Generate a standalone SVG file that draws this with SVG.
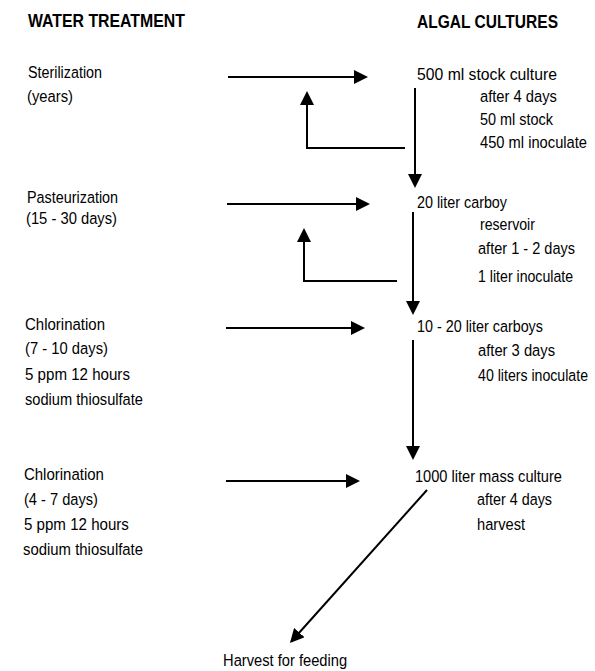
<svg xmlns="http://www.w3.org/2000/svg" width="595" height="671" viewBox="0 0 595 671">
<style>
text{font-family:"Liberation Sans",Arial,sans-serif;font-size:17px;fill:#000}
.h{font-weight:bold;font-size:18.5px}
.c line,.c polyline{stroke:#000;stroke-width:2;fill:none}
</style>
<defs>
<marker id="ah" markerUnits="userSpaceOnUse" markerWidth="15" markerHeight="14" refX="12" refY="7" orient="auto" viewBox="0 0 15 14">
<path d="M0,0 L14,7 L0,14 z" fill="#000"/>
</marker>
</defs>
<rect width="595" height="671" fill="#fff"/>
<g id="header-water" transform="scale(0.85 1)"><text class="h" x="32.9" y="27" textLength="184.7" lengthAdjust="spacingAndGlyphs">WATER TREATMENT</text></g>
<g id="header-algal" transform="scale(0.85 1)"><text class="h" x="490.6" y="28" textLength="165.9" lengthAdjust="spacingAndGlyphs">ALGAL CULTURES</text></g>

<g id="sterilization" transform="scale(0.85 1)">
<text x="32.9" y="78" textLength="87.1" lengthAdjust="spacingAndGlyphs">Sterilization</text>
<text x="31.8" y="102" textLength="54.1" lengthAdjust="spacingAndGlyphs">(years)</text>
</g>
<g id="pasteurization" transform="scale(0.85 1)">
<text x="31.8" y="203" textLength="107.1" lengthAdjust="spacingAndGlyphs">Pasteurization</text>
<text x="30.6" y="224" textLength="107.1" lengthAdjust="spacingAndGlyphs">(15 - 30 days)</text>
</g>
<g id="chlorination1" transform="scale(0.85 1)">
<text x="29.4" y="330" textLength="94.1" lengthAdjust="spacingAndGlyphs">Chlorination</text>
<text x="29.4" y="354" textLength="97.6" lengthAdjust="spacingAndGlyphs">(7 - 10 days)</text>
<text x="29.4" y="380" textLength="123.5" lengthAdjust="spacingAndGlyphs">5 ppm 12 hours</text>
<text x="29.4" y="405" textLength="138.8" lengthAdjust="spacingAndGlyphs">sodium thiosulfate</text>
</g>
<g id="chlorination2" transform="scale(0.85 1)">
<text x="28.2" y="480" textLength="94.1" lengthAdjust="spacingAndGlyphs">Chlorination</text>
<text x="28.2" y="505" textLength="87.1" lengthAdjust="spacingAndGlyphs">(4 - 7 days)</text>
<text x="28.2" y="530" textLength="123.5" lengthAdjust="spacingAndGlyphs">5 ppm 12 hours</text>
<text x="27.1" y="555" textLength="141.2" lengthAdjust="spacingAndGlyphs">sodium thiosulfate</text>
</g>

<g id="stock-culture" transform="scale(0.85 1)">
<text x="490.6" y="80" textLength="164.7" lengthAdjust="spacingAndGlyphs">500 ml stock culture</text>
<text x="564.7" y="102" textLength="90.6" lengthAdjust="spacingAndGlyphs">after 4 days</text>
<text x="564.7" y="125" textLength="85.9" lengthAdjust="spacingAndGlyphs">50 ml stock</text>
<text x="564.7" y="148" textLength="125.9" lengthAdjust="spacingAndGlyphs">450 ml inoculate</text>
</g>
<g id="carboy20" transform="scale(0.85 1)">
<text x="490.6" y="208" textLength="105.9" lengthAdjust="spacingAndGlyphs">20 liter carboy</text>
<text x="564.7" y="230" textLength="64.7" lengthAdjust="spacingAndGlyphs">reservoir</text>
<text x="562.4" y="254" textLength="114.1" lengthAdjust="spacingAndGlyphs">after 1 - 2 days</text>
<text x="562.4" y="282" textLength="111.8" lengthAdjust="spacingAndGlyphs">1 liter inoculate</text>
</g>
<g id="carboys10-20" transform="scale(0.85 1)">
<text x="490.6" y="332" textLength="148.2" lengthAdjust="spacingAndGlyphs">10 - 20 liter carboys</text>
<text x="562.4" y="356" textLength="90.6" lengthAdjust="spacingAndGlyphs">after 3 days</text>
<text x="562.4" y="381" textLength="129.4" lengthAdjust="spacingAndGlyphs">40 liters inoculate</text>
</g>
<g id="mass-culture" transform="scale(0.85 1)">
<text x="488.2" y="482" textLength="172.9" lengthAdjust="spacingAndGlyphs">1000 liter mass culture</text>
<text x="561.2" y="505" textLength="88.2" lengthAdjust="spacingAndGlyphs">after 4 days</text>
<text x="561.2" y="530" textLength="56.5" lengthAdjust="spacingAndGlyphs">harvest</text>
</g>
<g id="harvest-feeding" transform="scale(0.85 1)">
<text x="262.4" y="666" textLength="145.9" lengthAdjust="spacingAndGlyphs">Harvest for feeding</text>
</g>

<g id="connectors" class="c">
<line x1="228" y1="77" x2="366" y2="77" marker-end="url(#ah)"/>
<line x1="415" y1="88" x2="415" y2="186" marker-end="url(#ah)"/>
<polyline points="405,148 307,148 307,93" marker-end="url(#ah)"/>
<line x1="227" y1="204" x2="368" y2="204" marker-end="url(#ah)"/>
<line x1="413" y1="212" x2="413" y2="313" marker-end="url(#ah)"/>
<polyline points="397,281 304,281 304,230" marker-end="url(#ah)"/>
<line x1="226" y1="328" x2="363" y2="328" marker-end="url(#ah)"/>
<line x1="413" y1="340" x2="413" y2="458" marker-end="url(#ah)"/>
<line x1="226" y1="481" x2="358" y2="481" marker-end="url(#ah)"/>
<line x1="427" y1="490" x2="291.3" y2="641.5" marker-end="url(#ah)"/>
</g>
</svg>
